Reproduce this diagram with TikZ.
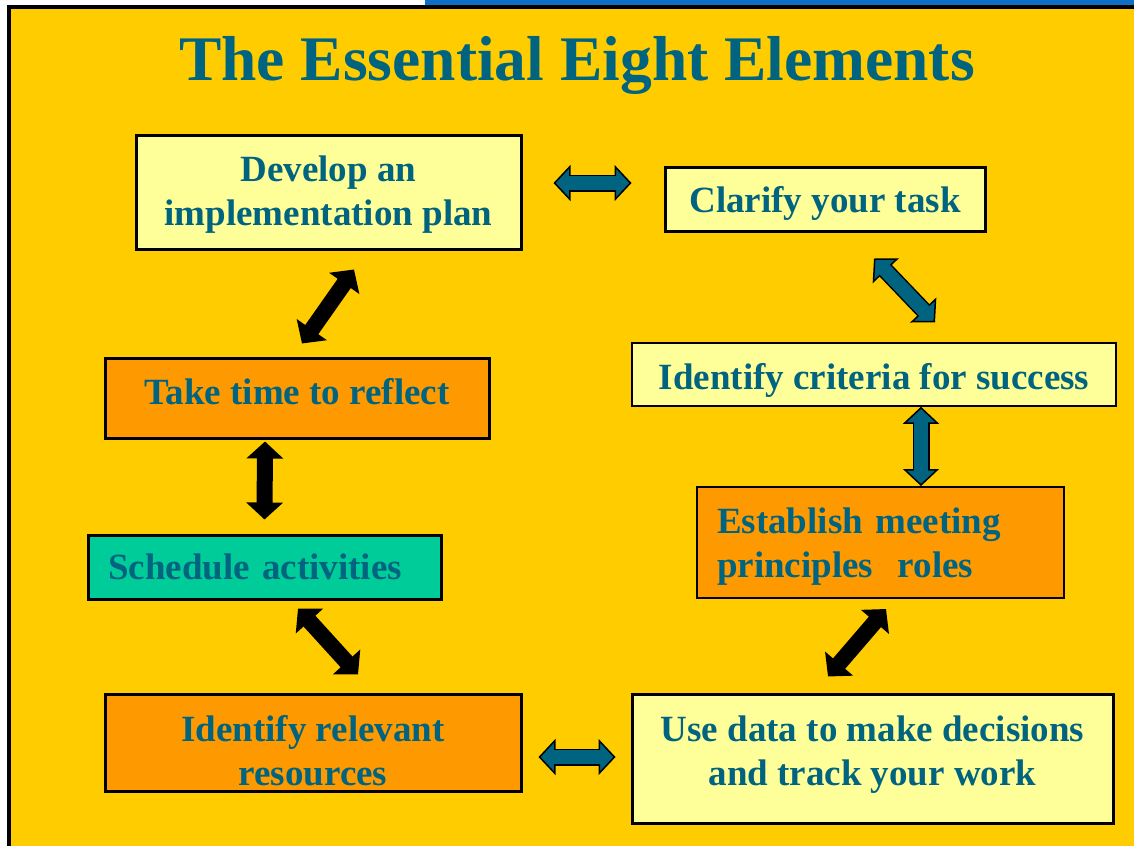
\documentclass[tikz,border=0pt]{standalone}
\usepackage{fontspec}
\setmainfont{Liberation Serif}
\usetikzlibrary{calc,arrows.meta}

\definecolor{slideyellow}{HTML}{FFCC00}
\definecolor{paleyellow}{HTML}{FFFF99}
\definecolor{boxorange}{HTML}{FF9900}
\definecolor{boxgreen}{HTML}{00CC99}
\definecolor{inkteal}{HTML}{006480}
\definecolor{barblue}{HTML}{0F6FC6}

\tikzset{
	elem/.style={draw=black, line width=3pt, text=inkteal, inner sep=0pt,
		font=\fontsize{37}{44}\selectfont\bfseries},
	leftelem/.style={elem, inner xsep=20pt, align=left},
	darkarrow/.style={line width=16pt, draw=black,
		{Triangle[width=36pt,length=17pt]}-{Triangle[width=36pt,length=17pt]}},
	tealarrow/.style={line width=17pt, draw=black,
		{Triangle[width=36pt,length=17pt,fill=inkteal,line width=1.5pt]}-{Triangle[width=36pt,length=17pt,fill=inkteal,line width=1.5pt]},
		postaction={draw=inkteal, line width=14pt, arrows=-, shorten <=15pt, shorten >=15pt}}
}

\begin{document}
\begin{tikzpicture}[x=1pt, y=-1pt]
			%%%%% START %%%%%
			
			\useasboundingbox (0, 0) rectangle (1134, 846);
			\fill[white] (0, 0) rectangle (1134, 846);
			\fill[barblue] (425, 0) rectangle (1134, 5);
			\fill[black] (7, 5) rectangle (1134, 9);
			\fill[black] (7, 5) rectangle (11, 846);
			\fill[slideyellow] (11, 9) rectangle (1134, 846);
			
			\node[font=\fontsize{63.5}{70}\selectfont\bfseries, text=inkteal, anchor=base] (title) at (577, 80) {The Essential Eight Elements};
			
			% left column
			\node[elem, fill=paleyellow, minimum width=385pt, minimum height=114pt, align=center, text height=74pt, text depth=8pt] (dev) at (328.5, 192) {Develop an\\implementation plan};
			\node[elem, fill=boxorange, minimum width=384pt, minimum height=80pt, text height=25.5pt, text depth=12pt] (reflect) at (297, 398) {Take time to reflect};
			\node[leftelem, fill=boxgreen, text width=313pt, minimum height=64pt] (sched) at (264.5, 567) {Schedule activities};
			\node[elem, fill=boxorange, minimum width=416pt, minimum height=97pt, align=center, text height=85pt, text depth=0pt] (resources) at (313, 742.5) {Identify relevant\\resources};
			
			% right column
			\node[elem, fill=paleyellow, minimum width=320pt, minimum height=64pt, text height=33.5pt, text depth=7.5pt] (clarify) at (825, 199) {Clarify your task};
			\node[elem, line width=1.5pt, fill=paleyellow, minimum width=484pt, minimum height=63pt, text height=37.5pt, text depth=7.5pt] (criteria) at (874, 374.5) {Identify criteria for success};
			\node[leftelem, line width=2pt, fill=boxorange, text width=327pt, minimum height=111pt, text height=33.5pt, text depth=52pt] (establish) at (880.5, 542.5) {Establish meeting\\principles\ \ roles};
			\node[elem, fill=paleyellow, minimum width=481pt, minimum height=129pt, align=center, text height=61pt, text depth=8pt] (usedata) at (872.5, 758.5) {Use data to make decisions\\and track your work};
			
			% arrows
			\draw[tealarrow] ($(dev.east)+(31, -9)$) -- ($(clarify.west)+(-32, -16)$);
			\draw[darkarrow] ($(reflect.north)+(5, -13)$) -- ($(dev.south)+(25.5, 19)$);
			\draw[tealarrow] ($(clarify.south)+(49, 26)$) -- ($(criteria.north)+(61, -20)$);
			\draw[darkarrow] ($(reflect.south)+(-32, 2)$) -- ($(sched.north)+(0, -14)$);
			\draw[tealarrow] ($(criteria.south)+(47, 0)$) -- ($(establish.north)+(40.5, 0)$);
			\draw[darkarrow] ($(sched.south)+(33.5, 8)$) -- ($(resources.north)+(45, -18)$);
			\draw[darkarrow] ($(usedata.north)+(-44.5, -16)$) -- ($(establish.south)+(5.5, 10)$);
			\draw[tealarrow] ($(resources.east)+(16, 14.5)$) -- ($(usedata.west)+(-15, -1.5)$);
			
			%%%%% END %%%%%
\end{tikzpicture}
\end{document}
